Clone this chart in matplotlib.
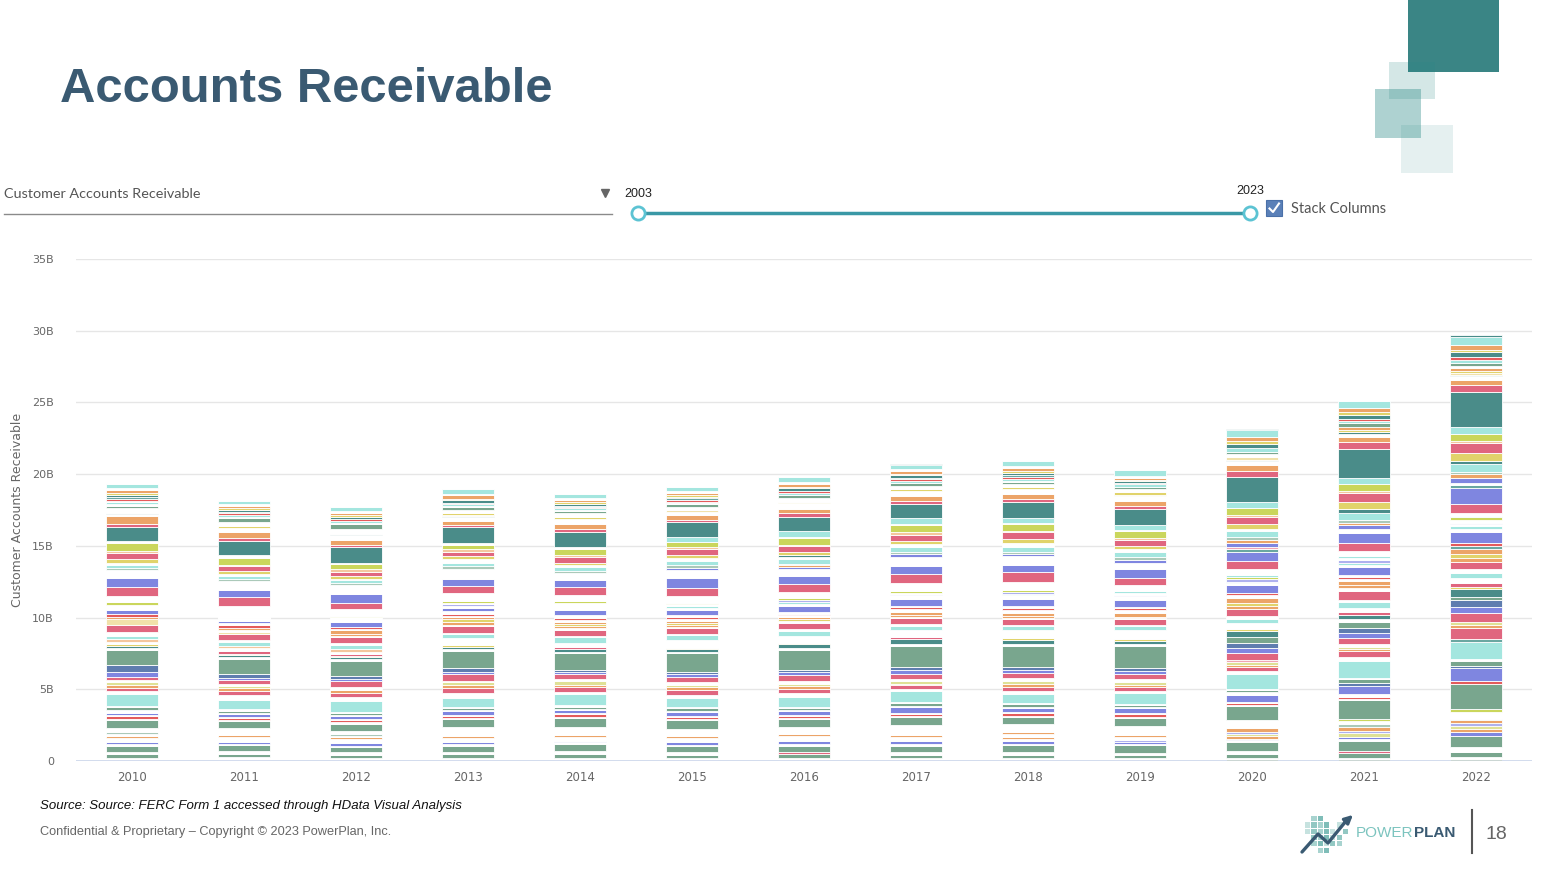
import matplotlib
matplotlib.use("Agg")
import matplotlib.pyplot as plt
from matplotlib.patches import Rectangle, FancyArrowPatch
import numpy as np

# ---------------- data (billions of $, companies stacked bottom -> top) ----------------
YEARS = ["2010", "2011", "2012", "2013", "2014", "2015", "2016",
         "2017", "2018", "2019", "2020", "2021", "2022"]

Y_TICKS = [0, 5, 10, 15, 20, 25, 30, 35]
Y_TICK_LABELS = ["0", "5B", "10B", "15B", "20B", "25B", "30B", "35B"]

# colour key of each company series (bottom -> top); "gap" = white-coloured company
ZONE_A_KEYS = ["yg", "gap", "sage", "gap", "pink", "sage", "gap", "blue", "gap", "orange",
               "paleyg", "lav", "gap", "orange", "lsage", "gap"]
ZONE_A_VALUES = [
    [0.07, 0.07, 0.07, 0.07, 0.07, 0.07, 0.07, 0.07, 0.07, 0.07, 0.12, 0.12, 0.12],
    [0.16, 0.19, 0.16, 0.16, 0.16, 0.16, 0.16, 0.12, 0.14, 0.14, 0.12, 0.12, 0.19],
    [0.23, 0.23, 0.21, 0.23, 0.23, 0.19, 0.23, 0.23, 0.23, 0.23, 0.26, 0.30, 0.33],
    [0.14, 0.19, 0.19, 0.14, 0.23, 0.19, 0.00, 0.19, 0.19, 0.14, 0.21, 0.00, 0.33],
    [0.00, 0.00, 0.00, 0.00, 0.00, 0.00, 0.14, 0.00, 0.00, 0.00, 0.00, 0.16, 0.00],
    [0.47, 0.42, 0.35, 0.47, 0.47, 0.42, 0.47, 0.42, 0.47, 0.51, 0.60, 0.70, 0.74],
    [0.09, 0.09, 0.09, 0.12, 0.14, 0.12, 0.12, 0.14, 0.09, 0.09, 0.12, 0.16, 0.00],
    [0.14, 0.14, 0.16, 0.14, 0.12, 0.14, 0.19, 0.19, 0.19, 0.14, 0.12, 0.14, 0.30],
    [0.30, 0.33, 0.33, 0.30, 0.28, 0.33, 0.33, 0.28, 0.14, 0.00, 0.00, 0.00, 0.00],
    [0.16, 0.12, 0.09, 0.12, 0.14, 0.14, 0.16, 0.19, 0.14, 0.00, 0.16, 0.00, 0.21],
    [0.00, 0.00, 0.00, 0.00, 0.00, 0.00, 0.00, 0.00, 0.00, 0.00, 0.19, 0.23, 0.23],
    [0.00, 0.00, 0.00, 0.00, 0.00, 0.00, 0.00, 0.00, 0.00, 0.14, 0.14, 0.19, 0.19],
    [0.14, 0.00, 0.12, 0.00, 0.00, 0.00, 0.00, 0.00, 0.19, 0.19, 0.00, 0.00, 0.00],
    [0.00, 0.00, 0.00, 0.00, 0.00, 0.00, 0.00, 0.00, 0.16, 0.16, 0.23, 0.23, 0.19],
    [0.14, 0.00, 0.12, 0.00, 0.00, 0.00, 0.00, 0.00, 0.00, 0.00, 0.00, 0.21, 0.12],
    [0.28, 0.49, 0.23, 0.65, 0.56, 0.49, 0.53, 0.65, 0.56, 0.65, 0.60, 0.23, 0.44],
]

ZONE_B_KEYS = ["yg", "sage", "gap", "red", "gap", "blue", "slate", "gap", "sage", "gap",
               "cyan", "gap", "teal"]
ZONE_B_VALUES = [
    [0.00, 0.00, 0.00, 0.00, 0.00, 0.00, 0.00, 0.00, 0.00, 0.00, 0.00, 0.12, 0.23],
    [0.56, 0.51, 0.49, 0.53, 0.63, 0.63, 0.53, 0.56, 0.53, 0.56, 0.93, 1.35, 1.74],
    [0.07, 0.07, 0.14, 0.07, 0.07, 0.07, 0.07, 0.09, 0.07, 0.07, 0.12, 0.07, 0.00],
    [0.16, 0.14, 0.12, 0.14, 0.16, 0.12, 0.16, 0.14, 0.16, 0.16, 0.12, 0.16, 0.23],
    [0.09, 0.09, 0.05, 0.09, 0.07, 0.09, 0.07, 0.09, 0.07, 0.07, 0.09, 0.19, 0.00],
    [0.14, 0.23, 0.23, 0.23, 0.23, 0.26, 0.26, 0.40, 0.30, 0.35, 0.47, 0.58, 0.86],
    [0.00, 0.00, 0.00, 0.00, 0.00, 0.00, 0.00, 0.00, 0.00, 0.00, 0.00, 0.16, 0.14],
    [0.21, 0.07, 0.07, 0.07, 0.07, 0.07, 0.07, 0.07, 0.07, 0.07, 0.23, 0.00, 0.00],
    [0.23, 0.14, 0.14, 0.16, 0.16, 0.19, 0.14, 0.21, 0.19, 0.19, 0.14, 0.33, 0.37],
    [0.07, 0.09, 0.09, 0.09, 0.12, 0.09, 0.07, 0.07, 0.07, 0.07, 0.07, 0.07, 0.14],
    [0.79, 0.65, 0.70, 0.63, 0.74, 0.63, 0.70, 0.74, 0.67, 0.77, 1.02, 1.16, 1.21],
    [0.23, 0.33, 0.30, 0.30, 0.16, 0.23, 0.28, 0.14, 0.19, 0.12, 0.23, 0.30, 0.00],
    [0.00, 0.00, 0.00, 0.00, 0.00, 0.00, 0.00, 0.00, 0.00, 0.00, 0.00, 0.00, 0.23],
]

ZONE_C_KEYS = ["pink", "orange", "paleyg", "gap", "pinklt", "pink", "blue", "slate", "sage",
               "gap", "dteal", "yellow", "pink", "gap", "peach", "cyan"]
ZONE_C_VALUES = [
    [0.23, 0.28, 0.28, 0.40, 0.33, 0.33, 0.28, 0.28, 0.30, 0.30, 0.23, 0.37, 0.70],
    [0.21, 0.19, 0.23, 0.19, 0.19, 0.21, 0.19, 0.09, 0.19, 0.14, 0.19, 0.14, 0.23],
    [0.21, 0.14, 0.00, 0.19, 0.23, 0.14, 0.16, 0.19, 0.19, 0.19, 0.19, 0.19, 0.23],
    [0.12, 0.19, 0.23, 0.09, 0.14, 0.19, 0.23, 0.19, 0.19, 0.19, 0.00, 0.19, 0.00],
    [0.00, 0.00, 0.00, 0.00, 0.00, 0.00, 0.00, 0.00, 0.00, 0.00, 0.16, 0.00, 0.00],
    [0.23, 0.28, 0.37, 0.47, 0.37, 0.35, 0.37, 0.33, 0.40, 0.37, 0.47, 0.42, 0.60],
    [0.35, 0.14, 0.14, 0.19, 0.14, 0.19, 0.21, 0.30, 0.19, 0.19, 0.33, 0.33, 0.42],
    [0.47, 0.23, 0.26, 0.23, 0.14, 0.19, 0.14, 0.21, 0.19, 0.23, 0.37, 0.37, 0.51],
    [1.05, 1.09, 1.00, 1.23, 1.16, 1.28, 1.40, 1.44, 1.49, 1.53, 0.40, 0.40, 0.23],
    [0.12, 0.14, 0.16, 0.14, 0.12, 0.12, 0.14, 0.14, 0.14, 0.14, 0.00, 0.21, 0.00],
    [0.14, 0.12, 0.12, 0.12, 0.19, 0.19, 0.28, 0.33, 0.28, 0.23, 0.40, 0.30, 0.51],
    [0.19, 0.09, 0.09, 0.12, 0.00, 0.09, 0.09, 0.00, 0.14, 0.12, 0.16, 0.00, 0.19],
    [0.00, 0.16, 0.14, 0.00, 0.14, 0.00, 0.00, 0.14, 0.00, 0.00, 0.00, 0.21, 0.23],
    [0.14, 0.21, 0.16, 0.47, 0.28, 0.51, 0.47, 0.47, 0.51, 0.58, 0.40, 0.28, 0.35],
    [0.19, 0.16, 0.19, 0.00, 0.00, 0.00, 0.00, 0.00, 0.00, 0.00, 0.00, 0.00, 0.00],
    [0.21, 0.30, 0.28, 0.28, 0.40, 0.35, 0.33, 0.30, 0.30, 0.33, 0.28, 0.37, 0.40],
]

ZONE_D_KEYS = ["gap", "pink", "paley", "gap", "orange", "yellow", "orange", "gap", "teal", "red",
               "gap", "blue", "gap", "cyan", "gap", "lav", "gap", "yg", "cyan", "gap"]
ZONE_D_VALUES = [
    [0.26, 0.14, 0.12, 0.09, 0.09, 0.07, 0.19, 0.12, 0.07, 0.07, 0.23, 0.19, 0.23],
    [0.47, 0.37, 0.42, 0.47, 0.42, 0.44, 0.40, 0.42, 0.42, 0.37, 0.53, 0.58, 0.53],
    [0.42, 0.19, 0.00, 0.00, 0.00, 0.00, 0.00, 0.00, 0.00, 0.00, 0.00, 0.00, 0.00],
    [0.00, 0.09, 0.07, 0.07, 0.09, 0.09, 0.16, 0.12, 0.09, 0.09, 0.00, 0.21, 0.00],
    [0.14, 0.19, 0.12, 0.23, 0.14, 0.14, 0.00, 0.12, 0.12, 0.09, 0.21, 0.23, 0.28],
    [0.00, 0.00, 0.00, 0.19, 0.19, 0.14, 0.14, 0.00, 0.00, 0.00, 0.19, 0.00, 0.28],
    [0.00, 0.00, 0.28, 0.14, 0.14, 0.14, 0.14, 0.23, 0.23, 0.26, 0.30, 0.28, 0.33],
    [0.00, 0.00, 0.09, 0.09, 0.14, 0.14, 0.09, 0.19, 0.23, 0.23, 0.21, 0.14, 0.00],
    [0.00, 0.00, 0.00, 0.00, 0.00, 0.00, 0.00, 0.00, 0.00, 0.00, 0.00, 0.00, 0.21],
    [0.23, 0.19, 0.12, 0.14, 0.12, 0.12, 0.12, 0.12, 0.12, 0.12, 0.14, 0.16, 0.23],
    [0.00, 0.14, 0.05, 0.21, 0.23, 0.16, 0.14, 0.12, 0.12, 0.09, 0.00, 0.14, 0.00],
    [0.30, 0.14, 0.33, 0.23, 0.35, 0.35, 0.42, 0.42, 0.51, 0.47, 0.58, 0.56, 0.77],
    [0.35, 0.19, 0.33, 0.09, 0.47, 0.12, 0.14, 0.28, 0.26, 0.28, 0.12, 0.12, 0.21],
    [0.00, 0.00, 0.00, 0.00, 0.00, 0.12, 0.12, 0.00, 0.09, 0.00, 0.09, 0.12, 0.14],
    [0.00, 0.00, 0.00, 0.00, 0.00, 0.00, 0.00, 0.00, 0.00, 0.00, 0.00, 0.00, 0.14],
    [0.00, 0.00, 0.00, 0.14, 0.00, 0.00, 0.14, 0.12, 0.09, 0.09, 0.19, 0.19, 0.09],
    [0.00, 0.00, 0.00, 0.09, 0.00, 0.12, 0.00, 0.05, 0.00, 0.14, 0.00, 0.16, 0.23],
    [0.19, 0.00, 0.09, 0.16, 0.16, 0.12, 0.12, 0.14, 0.14, 0.00, 0.16, 0.00, 0.19],
    [0.00, 0.00, 0.00, 0.00, 0.00, 0.00, 0.00, 0.00, 0.00, 0.12, 0.14, 0.12, 0.09],
    [0.44, 0.84, 0.51, 0.53, 0.37, 0.49, 0.44, 0.53, 0.60, 0.40, 0.44, 0.35, 0.21],
]

ZONE_E_KEYS = ["pink", "blue", "teal", "gap", "pinklt", "blue", "orange", "lsage", "cyan", "gap",
               "dteal", "yellow", "pink", "peach", "yg", "gap", "cyan"]
ZONE_E_VALUES = [
    [0.63, 0.63, 0.40, 0.51, 0.56, 0.51, 0.56, 0.63, 0.67, 0.51, 0.56, 0.56, 0.63],
    [0.60, 0.53, 0.63, 0.51, 0.51, 0.70, 0.53, 0.60, 0.53, 0.60, 0.63, 0.72, 1.07],
    [0.00, 0.00, 0.00, 0.00, 0.00, 0.00, 0.00, 0.00, 0.00, 0.00, 0.16, 0.00, 0.23],
    [0.58, 0.63, 0.63, 0.70, 0.51, 0.58, 0.47, 0.58, 0.60, 0.47, 0.00, 0.30, 0.14],
    [0.00, 0.00, 0.00, 0.00, 0.00, 0.00, 0.00, 0.00, 0.00, 0.00, 0.16, 0.00, 0.00],
    [0.00, 0.00, 0.00, 0.00, 0.00, 0.14, 0.14, 0.21, 0.16, 0.19, 0.30, 0.23, 0.33],
    [0.00, 0.00, 0.00, 0.00, 0.00, 0.00, 0.14, 0.00, 0.00, 0.00, 0.19, 0.19, 0.28],
    [0.14, 0.14, 0.09, 0.16, 0.14, 0.19, 0.09, 0.14, 0.12, 0.19, 0.21, 0.19, 0.16],
    [0.21, 0.19, 0.21, 0.19, 0.23, 0.28, 0.35, 0.37, 0.35, 0.33, 0.44, 0.51, 0.58],
    [0.14, 0.14, 0.09, 0.30, 0.14, 0.23, 0.16, 0.19, 0.28, 0.23, 0.14, 0.00, 0.00],
    [0.00, 0.00, 0.00, 0.00, 0.00, 0.00, 0.12, 0.00, 0.00, 0.00, 0.00, 0.28, 0.21],
    [0.23, 0.19, 0.19, 0.19, 0.19, 0.23, 0.19, 0.21, 0.30, 0.21, 0.30, 0.47, 0.56],
    [0.42, 0.33, 0.30, 0.33, 0.42, 0.37, 0.42, 0.44, 0.44, 0.44, 0.49, 0.65, 0.67],
    [0.16, 0.12, 0.19, 0.16, 0.14, 0.16, 0.09, 0.19, 0.09, 0.12, 0.14, 0.09, 0.16],
    [0.53, 0.47, 0.35, 0.33, 0.42, 0.33, 0.51, 0.51, 0.51, 0.51, 0.53, 0.49, 0.47],
    [0.14, 0.19, 0.12, 0.12, 0.12, 0.00, 0.07, 0.09, 0.07, 0.07, 0.00, 0.00, 0.00],
    [0.00, 0.00, 0.00, 0.00, 0.00, 0.37, 0.40, 0.37, 0.33, 0.33, 0.44, 0.44, 0.53],
]

ZONE_F_KEYS = ["dteal", "pink", "orange", "gap", "dteal", "paley", "yellow", "orange", "gap",
               "sage", "gap", "cyan", "gap", "red", "teal", "dteal", "yellow", "orange", "gap",
               "cyan", "dteal"]
ZONE_F_VALUES = [
    [1.00, 1.00, 1.07, 1.09, 1.07, 1.02, 1.00, 1.02, 1.12, 1.09, 1.72, 2.05, 2.42],
    [0.23, 0.21, 0.19, 0.19, 0.21, 0.19, 0.23, 0.19, 0.23, 0.23, 0.40, 0.47, 0.47],
    [0.53, 0.40, 0.33, 0.26, 0.30, 0.33, 0.30, 0.35, 0.33, 0.33, 0.40, 0.37, 0.33],
    [0.16, 0.28, 0.35, 0.26, 0.33, 0.23, 0.40, 0.37, 0.35, 0.40, 0.30, 0.21, 0.28],
    [0.09, 0.00, 0.09, 0.09, 0.00, 0.00, 0.00, 0.00, 0.00, 0.00, 0.07, 0.12, 0.09],
    [0.00, 0.00, 0.00, 0.07, 0.00, 0.14, 0.00, 0.00, 0.00, 0.07, 0.19, 0.00, 0.14],
    [0.00, 0.12, 0.00, 0.12, 0.14, 0.00, 0.12, 0.14, 0.12, 0.16, 0.00, 0.16, 0.16],
    [0.00, 0.00, 0.00, 0.00, 0.00, 0.00, 0.00, 0.00, 0.00, 0.00, 0.00, 0.16, 0.16],
    [0.30, 0.30, 0.33, 0.23, 0.28, 0.21, 0.28, 0.19, 0.21, 0.23, 0.21, 0.00, 0.14],
    [0.19, 0.28, 0.33, 0.23, 0.19, 0.19, 0.16, 0.19, 0.14, 0.12, 0.16, 0.30, 0.26],
    [0.14, 0.05, 0.07, 0.05, 0.05, 0.05, 0.05, 0.05, 0.09, 0.05, 0.00, 0.00, 0.00],
    [0.14, 0.16, 0.12, 0.14, 0.12, 0.09, 0.12, 0.14, 0.14, 0.16, 0.28, 0.14, 0.21],
    [0.07, 0.00, 0.05, 0.00, 0.00, 0.00, 0.00, 0.00, 0.00, 0.00, 0.00, 0.00, 0.00],
    [0.09, 0.12, 0.12, 0.09, 0.12, 0.12, 0.12, 0.09, 0.12, 0.07, 0.00, 0.16, 0.16],
    [0.16, 0.12, 0.00, 0.00, 0.07, 0.12, 0.00, 0.09, 0.12, 0.00, 0.00, 0.00, 0.00],
    [0.12, 0.12, 0.12, 0.16, 0.14, 0.12, 0.19, 0.19, 0.19, 0.16, 0.28, 0.28, 0.40],
    [0.14, 0.12, 0.12, 0.12, 0.09, 0.09, 0.09, 0.12, 0.12, 0.07, 0.21, 0.21, 0.14],
    [0.19, 0.14, 0.16, 0.23, 0.16, 0.16, 0.21, 0.21, 0.19, 0.12, 0.30, 0.26, 0.33],
    [0.16, 0.12, 0.14, 0.12, 0.14, 0.14, 0.14, 0.09, 0.14, 0.19, 0.00, 0.00, 0.00],
    [0.30, 0.26, 0.28, 0.28, 0.26, 0.30, 0.33, 0.28, 0.37, 0.40, 0.44, 0.47, 0.56],
    [0.00, 0.00, 0.00, 0.00, 0.00, 0.00, 0.00, 0.09, 0.00, 0.00, 0.07, 0.00, 0.16],
]

# ---------------- styles ----------------
PALETTE = {
    "cyan": "#a4e6df", "orange": "#eca468", "yellow": "#e1d36b", "yg": "#cad65c",
    "paleyg": "#dfe196", "paley": "#f1e1aa", "dteal": "#4a8c89", "teal": "#6aa7a1",
    "sage": "#79a68e", "lsage": "#abc9b9", "pink": "#e0667f", "pinklt": "#f0a5b3",
    "red": "#e45b5b", "blue": "#7f86e0", "lav": "#aeb1ee", "slate": "#5f7daf",
    "peach": "#f4c69d", "gap": "#ffffff",
}

W, H = 1560, 872
fig = plt.figure(figsize=(W / 100, H / 100), dpi=100)
fig.patch.set_facecolor("white")

deco = fig.add_axes([0, 0, 1, 1])
deco.set_xlim(0, W)
deco.set_ylim(H, 0)
deco.axis("off")

ax = fig.add_axes([76 / W, (H - 761) / H, 1456 / W, 502 / H])
ax.patch.set_alpha(0)

all_keys = ZONE_A_KEYS + ZONE_B_KEYS + ZONE_C_KEYS + ZONE_D_KEYS + ZONE_E_KEYS + ZONE_F_KEYS
all_vals = ZONE_A_VALUES + ZONE_B_VALUES + ZONE_C_VALUES + ZONE_D_VALUES + ZONE_E_VALUES + ZONE_F_VALUES

x = np.arange(len(YEARS))
bottom = np.zeros(len(YEARS))
for key, vals in zip(all_keys, all_vals):
    v = np.asarray(vals, dtype=float)
    ax.bar(x, v, bottom=bottom, width=0.47, color=PALETTE[key],
           edgecolor="white", linewidth=0.6, zorder=2)
    bottom += v

ax.set_xlim(-0.5, len(YEARS) - 0.5)
ax.set_ylim(0, 35)
ax.set_yticks(Y_TICKS)
ax.set_yticklabels(Y_TICK_LABELS)
ax.set_xticks(x)
ax.set_xticklabels(YEARS)
for s in ax.spines.values():
    s.set_visible(False)
ax.yaxis.grid(True, color="#e6e6e6", linewidth=1.0, zorder=0)
ax.set_axisbelow(True)
ax.axhline(0, color="#ccd6eb", linewidth=1.2, zorder=3)
ax.tick_params(axis="y", length=0, pad=16, labelsize=8, labelcolor="#666666")
ax.tick_params(axis="x", length=0, pad=7, labelsize=8.5, labelcolor="#666666")

fig.text(18 / W, 1 - 510 / H, "Customer Accounts Receivable", rotation=90,
         ha="center", va="center", fontsize=9, color="#666666", family="DejaVu Sans")

# ---------------- title & controls ----------------
deco.text(60, 102, "Accounts Receivable", fontsize=35.3, fontweight="bold",
          color="#3a5a72", family="Liberation Sans", va="baseline", ha="left")

deco.text(4, 194, "Customer Accounts Receivable", fontsize=10.4, color="#555555",
          family="Lato", va="center", ha="left")
deco.plot([4, 612], [214, 214], color="#8a8a8a", lw=1.0)
deco.plot([605], [193], marker="v", markersize=6, color="#666666")

deco.plot([638, 1250], [213, 213], color="#3a98a6", lw=2.5, solid_capstyle="butt")
for cx in (638, 1250):
    deco.plot([cx], [213], marker="o", markersize=9.5, markerfacecolor="white",
              markeredgecolor="#5cc3d3", markeredgewidth=2)
deco.text(638, 194, "2003", fontsize=9, color="#222222",
          family="Liberation Sans", ha="center", va="center")
deco.text(1250, 191, "2023", fontsize=9, color="#222222",
          family="Liberation Sans", ha="center", va="center")

deco.add_patch(Rectangle((1266, 200), 16, 16, facecolor="#5a80b8", edgecolor="#4a70a8", lw=0.8))
deco.plot([1269.5, 1273, 1279], [208.5, 212, 203.5], color="white", lw=1.5)
deco.text(1291, 209, "Stack Columns", fontsize=10.5, color="#555555", family="Lato",
          va="center", ha="left")

# ---------------- corner squares ----------------
deco.add_patch(Rectangle((1408, 0), 91, 72, facecolor="#3a8585", edgecolor="none"))
deco.add_patch(Rectangle((1389, 62), 46, 37, facecolor="#2a8a86", alpha=0.2, edgecolor="none"))
deco.add_patch(Rectangle((1375, 89), 46, 49, facecolor="#2a8a86", alpha=0.38, edgecolor="none"))
deco.add_patch(Rectangle((1401, 125), 52, 48, facecolor="#2a8a86", alpha=0.12, edgecolor="none"))

# ---------------- footer ----------------
deco.text(40, 806, "Source: Source: FERC Form 1 accessed through HData Visual Analysis",
          fontsize=9.5, style="italic", color="#111111",
          family="Liberation Sans", va="center", ha="left")
deco.text(40, 832, "Confidential & Proprietary \u2013 Copyright \u00a9 2023 PowerPlan, Inc.",
          fontsize=9.2, color="#666666",
          family="Liberation Sans", va="center", ha="left")

# PowerPlan logo (icon grid + arrow + wordmark)
ICON_CELLS = [(1, 0), (2, 0), (0, 1), (1, 1), (2, 1), (3, 1), (0, 2), (1, 2), (2, 2), (3, 2), (4, 2),
              (1, 3), (2, 3), (3, 3), (4, 3), (5, 3), (1, 4), (2, 4), (3, 4), (4, 4), (2, 5), (3, 5),
              (5, 1), (6, 2), (5, 4)]
ICON_SHADES = ["#a8d3cf", "#7fbdb8", "#c6e2df", "#93c8c3"]
for i, (cx, cy) in enumerate(ICON_CELLS):
    deco.add_patch(Rectangle((1305 + cx * 6.3, 816 + cy * 6.3), 5.2, 5.2,
                             facecolor=ICON_SHADES[i % len(ICON_SHADES)], edgecolor="none"))
deco.plot([1302, 1318, 1328, 1346], [852, 834, 843, 821], color="#3a5a72", lw=2.4,
          solid_capstyle="round")
deco.add_patch(FancyArrowPatch((1342, 825), (1355, 813), arrowstyle="-|>", mutation_scale=12,
                               color="#3a5a72", lw=2.2))
power_txt = deco.text(1356, 833, "POWER", fontsize=11, color="#7cc4bf", family="Liberation Sans",
                      va="center", ha="left")
deco.annotate("PLAN", xy=(1, 0.5), xycoords=power_txt, xytext=(0.5, 0),
              textcoords="offset points", fontsize=11, color="#3a5a72",
              family="Liberation Sans", fontweight="bold", va="center", ha="left")
deco.plot([1472, 1472], [810, 853], color="#555555", lw=1.5)
deco.text(1496, 834, "18", fontsize=14, color="#666666", family="Liberation Sans",
          va="center", ha="center")

fig.savefig("out.png", dpi=100, facecolor="white")
